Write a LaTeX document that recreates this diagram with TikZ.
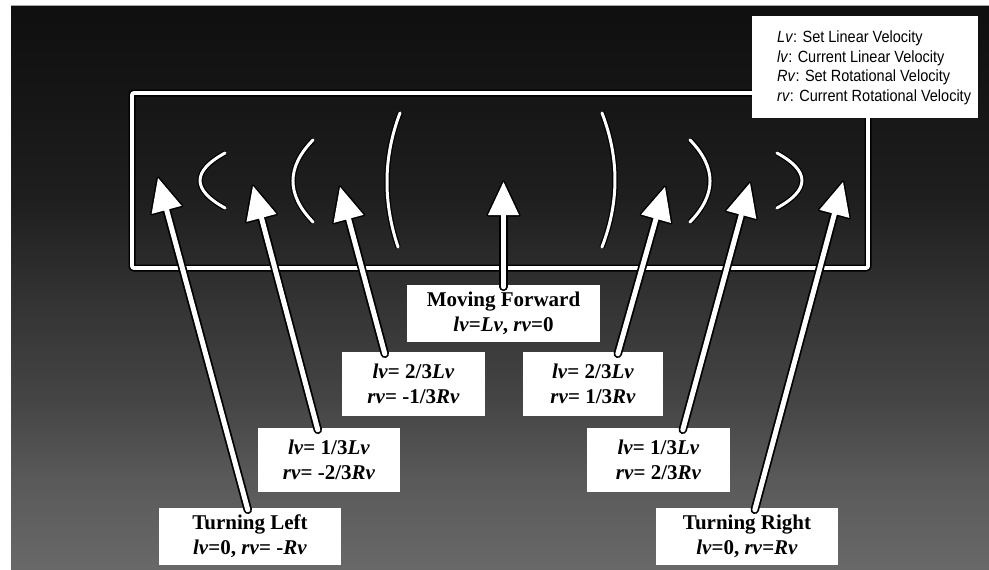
\documentclass[tikz,border=0pt]{standalone}
\usepackage{fontspec}
\usepackage{graphicx}
\setmainfont{Liberation Serif}
\newfontfamily\legendfont{Liberation Sans}
\usetikzlibrary{calc}

% backdrop: near black at the top, mid grey at the bottom
\definecolor{bgTop}{gray}{0.06}
\definecolor{bgA}{gray}{0.085}
\definecolor{bgB}{gray}{0.12}
\definecolor{bgC}{gray}{0.20}
\definecolor{bgD}{gray}{0.27}
\definecolor{bgE}{gray}{0.35}
\definecolor{bgBot}{gray}{0.41}
\pgfdeclareverticalshading{bgshade}{100bp}{%
  color(0bp)=(bgBot); color(25bp)=(bgBot); color(33bp)=(bgE);
  color(40bp)=(bgD); color(48.9bp)=(bgC); color(57.7bp)=(bgB);
  color(66.6bp)=(bgA); color(75bp)=(bgTop); color(100bp)=(bgTop)}

% thick white arrow with a black rim, from tail #1 to tip #2
\newcommand\fatarrow[2]{%
  \coordinate (hb) at ($(#2)!33pt!(#1)$);
  \coordinate (hl) at ($(hb)!15.5pt!90:(#2)$);
  \coordinate (hr) at ($(hb)!15.5pt!-90:(#2)$);
  \draw[black, line width=8.5pt, line cap=round] (#1) -- (hb);
  \filldraw[black, line width=3pt, line join=round] (#2) -- (hl) -- (hr) -- cycle;
  \draw[white, line width=5pt, line cap=round] (#1) -- (hb);
  \fill[white] (#2) -- (hl) -- (hr) -- cycle;
}

\begin{document}
\begin{tikzpicture}[x=1pt,y=-1pt,
  lbl/.style={fill=white, inner sep=0pt, align=center,
    font=\fontsize{21}{25}\selectfont\bfseries},
  arcline/.style={draw=white, line width=3pt, line cap=round,
    preaction={draw=black, line width=5.5pt}},
  legendbox/.style={fill=white, inner sep=0pt, minimum width=226pt, minimum height=102pt},
  legendtext/.style={inner sep=0pt,
    font=\legendfont\fontsize{14.5}{17.4}\selectfont}]

\useasboundingbox (0,0) rectangle (989,570);
\fill[white] (0,0) rectangle (989,570);
\fill[shading=bgshade] (11,5) rectangle (989,570);
\draw[gray!70, line width=1.2pt] (11,5.6) -- (989,5.6);

% outer frame
\draw[black, line width=7pt, rounded corners=2pt] (132,93) rectangle (868,268);
\draw[white, line width=3.8pt, rounded corners=2pt] (132,93) rectangle (868,268);

% curvature marks
\path[arcline] (225,153) .. controls (191.7,171.3) and (191.7,189.7) .. (225,208);
\path[arcline] (313,140) .. controls (286.3,167.3) and (286.3,194.7) .. (313,222);
\path[arcline] (400,113) .. controls (383,157.7) and (383,202.3) .. (398,247);
\path[arcline] (602,113) .. controls (619.3,157.7) and (619.3,202.3) .. (602,247);
\path[arcline] (690,140) .. controls (716.7,167.3) and (716.7,194.7) .. (690,222);
\path[arcline] (777,153) .. controls (810.3,171.3) and (810.3,189.7) .. (777,208);

% legend
\node[legendbox] (legend) at (865,67) {};
\node[legendtext, anchor=west] (legendtxt) at (777,68)
  {\scalebox{1}[1.12]{\begin{tabular}{@{}l@{}}
   \textit{Lv}: Set Linear Velocity\\
   \textit{lv}: Current Linear Velocity\\
   \textit{Rv}: Set Rotational Velocity\\
   \textit{rv}: Current Rotational Velocity
   \end{tabular}}};

% state boxes
\node[lbl, minimum width=193pt, minimum height=57pt] (fwd) at (503.5,313.5)
  {Moving Forward\\\textit{lv}=\textit{Lv}, \textit{rv}=0};
\node[lbl, minimum width=143pt, minimum height=64pt] (L3) at (413.5,384)
  {\textit{lv}= 2/3\textit{Lv}\\\textit{rv}= -1/3\textit{Rv}};
\node[lbl, minimum width=140pt, minimum height=64pt] (R3) at (593,384)
  {\textit{lv}= 2/3\textit{Lv}\\\textit{rv}= 1/3\textit{Rv}};
\node[lbl, minimum width=142pt, minimum height=64pt] (L2) at (329,460)
  {\textit{lv}= 1/3\textit{Lv}\\\textit{rv}= -2/3\textit{Rv}};
\node[lbl, minimum width=143pt, minimum height=64pt] (R2) at (658.5,460)
  {\textit{lv}= 1/3\textit{Lv}\\\textit{rv}= 2/3\textit{Rv}};
\node[lbl, minimum width=182pt, minimum height=57pt] (TL) at (250,536.5)
  {Turning Left\\\textit{lv}=0, \textit{rv}= -\textit{Rv}};
\node[lbl, minimum width=182pt, minimum height=57pt] (TR) at (747,536.5)
  {Turning Right\\\textit{lv}=0, \textit{rv}=\textit{Rv}};

% arrow tips
\coordinate (t1) at (158,178);
\coordinate (t2) at (253,186);
\coordinate (t3) at (340,187);
\coordinate (t4) at (503.5,182);
\coordinate (t5) at (665,187);
\coordinate (t6) at (750,183);
\coordinate (t7) at (843,182);

% arrow tails on the box tops
\coordinate (s1) at ([xshift=89pt,yshift=-2pt]TL.north west);
\coordinate (s2) at ([xshift=60pt,yshift=-2pt]L2.north west);
\coordinate (s3) at ([xshift=43pt,yshift=-2pt]L3.north west);
\coordinate (s4) at ([yshift=-2pt]fwd.north);
\coordinate (s5) at ([xshift=95pt,yshift=-2pt]R3.north west);
\coordinate (s6) at ([xshift=96pt,yshift=-2pt]R2.north west);
\coordinate (s7) at ([xshift=99pt,yshift=-2pt]TR.north west);

\fatarrow{s1}{t1}
\fatarrow{s2}{t2}
\fatarrow{s3}{t3}
\fatarrow{s4}{t4}
\fatarrow{s5}{t5}
\fatarrow{s6}{t6}
\fatarrow{s7}{t7}

\end{tikzpicture}
\end{document}
